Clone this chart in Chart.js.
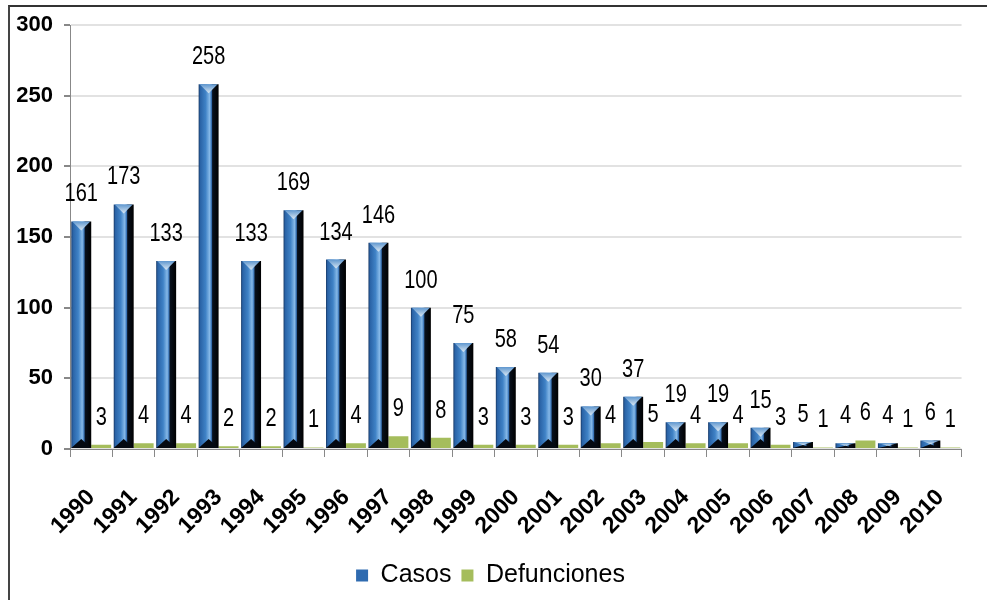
<!DOCTYPE html>
<html>
<head>
<meta charset="utf-8">
<script src="https://cdn.jsdelivr.net/npm/chart.js@4.4.0/dist/chart.umd.min.js"></script>
<style>
  html, body { margin: 0; padding: 0; background: #fff; overflow: hidden; }
  #frame { position: absolute; left: 8px; top: 5px; width: 2000px; height: 2000px;
           border-top: 2px solid #333; border-left: 2px solid #444; }
  #wrap { position: absolute; left: 0; top: 0; width: 987px; height: 600px; }
</style>
</head>
<body>
<div id="frame"></div>
<div id="wrap"><canvas id="myBarChart" width="987" height="600"></canvas></div>
<script>
// values
const years = ['1990', '1991', '1992', '1993', '1994', '1995', '1996', '1997', '1998', '1999', '2000',
               '2001', '2002', '2003', '2004', '2005', '2006', '2007', '2008', '2009', '2010'];
const casos = [161, 173, 133, 258, 133, 169, 134, 146, 100, 75, 58, 54, 30, 37, 19, 19, 15, 5, 4, 4, 6];
const defunciones = [3, 4, 4, 2, 2, 1, 4, 9, 8, 3, 3, 3, 4, 5, 4, 4, 3, 1, 6, 1, 1];
const yTicks = [0, 50, 100, 150, 200, 250, 300];

const FONT = "'Liberation Sans Narrow', 'Arial Narrow', 'Liberation Sans', Arial, sans-serif";
const CAT_PCT = 0.94;

// blue bar with a dark right side, like the bevel look of the original
const casosFill = (c) => {
    const chart = c.chart;
    const xs = chart.scales.x;
    if (!chart.chartArea || !xs || c.dataIndex === undefined) return '#2f6bb0';
    const w = xs.width / years.length * CAT_PCT / 2;
    const right = xs.getPixelForValue(c.dataIndex);
    const left = right - w;
    const g = chart.ctx.createLinearGradient(left, 0, right, 0);
    g.addColorStop(0, '#163764');
    g.addColorStop(0.08, '#2a63a6');
    g.addColorStop(0.35, '#3f82c6');
    g.addColorStop(0.55, '#86b9e8');
    g.addColorStop(0.64, '#3a75b8');
    g.addColorStop(0.7, '#08101c');
    g.addColorStop(1, '#000000');
    return g;
};

const barDecor = {
    id: 'barDecor',
    afterDatasetsDraw(chart) {
        const ctx = chart.ctx;
        ctx.save();
        chart.getDatasetMeta(0).data.forEach(bar => {
            const { x, y, base, width } = bar.getProps(['x', 'y', 'base', 'width'], true);
            const left = x - width / 2, right = x + width / 2;
            const d = Math.min(width * 0.45, (base - y) / 2);
            const tg = ctx.createLinearGradient(0, y, 0, y + d);
            tg.addColorStop(0, '#5f97cf');
            tg.addColorStop(1, '#dbe8f3');
            ctx.fillStyle = tg;
            ctx.beginPath();
            ctx.moveTo(left + 1, y);
            ctx.lineTo(right - 1, y);
            ctx.lineTo(x, y + d);
            ctx.closePath();
            ctx.fill();
            ctx.fillStyle = '#050a12';
            ctx.beginPath();
            ctx.moveTo(left, base);
            ctx.lineTo(right, base);
            ctx.lineTo(x, base - d);
            ctx.closePath();
            ctx.fill();
        });
        // value labels, squeezed a bit to look like the narrow face of the original
        ctx.font = '25px ' + FONT;
        ctx.fillStyle = '#000';
        ctx.textAlign = 'center';
        ctx.textBaseline = 'middle';
        chart.data.datasets.forEach((ds, i) => {
            chart.getDatasetMeta(i).data.forEach((bar, j) => {
                ctx.save();
                ctx.translate(bar.x, bar.y - 27);
                ctx.scale(0.8, 1);
                ctx.fillText(String(ds.data[j]), 0, 0);
                ctx.restore();
            });
        });
        ctx.restore();
    }
};

const chartData = {
    labels: years,
    datasets: [{
        label: 'Casos',
        data: casos,
        backgroundColor: casosFill,
        borderWidth: 0,
        categoryPercentage: CAT_PCT,
        barPercentage: 1
    }, {
        label: 'Defunciones',
        data: defunciones,
        backgroundColor: '#a5bd5c',
        borderWidth: 0,
        categoryPercentage: CAT_PCT,
        barPercentage: 1
    }]
};

const chartOptions = {
    responsive: false,
    animation: false,
    layout: { padding: { left: 0, right: 6, top: 25, bottom: 2 } },
    plugins: {
        tooltip: { enabled: false },
        legend: {
            position: 'bottom',
            labels: {
                color: '#000',
                font: { family: FONT, size: 25 },
                boxWidth: 12,
                boxHeight: 12,
                padding: 10,
                generateLabels(chart) {
                    const items = Chart.defaults.plugins.legend.labels.generateLabels(chart);
                    items[0].fillStyle = '#2f6bb0';
                    items[1].fillStyle = '#a5bd5c';
                    items.forEach(it => { it.lineWidth = 0; it.strokeStyle = 'rgba(0,0,0,0)'; });
                    return items;
                }
            }
        }
    },
    scales: {
        x: {
            afterFit(scale) { scale.height = 104; },
            grid: { drawOnChartArea: false, offset: true, tickLength: 8, color: '#888', lineWidth: 1 },
            border: { color: '#888', width: 1 },
            ticks: {
                color: '#000',
                font: { family: FONT, size: 23, weight: 'bold' },
                maxRotation: 45,
                minRotation: 45,
                autoSkip: false,
                padding: 27
            }
        },
        y: {
            min: 0,
            max: 300,
            afterFit(scale) { scale.width = 70; },
            afterBuildTicks(scale) { scale.ticks = yTicks.map(v => ({ value: v })); },
            grid: { color: '#e2e2e2', lineWidth: 2, tickColor: '#888', tickLength: 6 },
            border: { color: '#888', width: 1 },
            ticks: {
                color: '#000',
                font: { family: FONT, size: 22, weight: 'bold' },
                padding: 11
            }
        }
    }
};

const ctx = document.getElementById('myBarChart');
const barChart = new Chart(ctx, {
    type: 'bar',
    data: chartData,
    options: chartOptions,
    plugins: [barDecor]
});
</script>
</body>
</html>
